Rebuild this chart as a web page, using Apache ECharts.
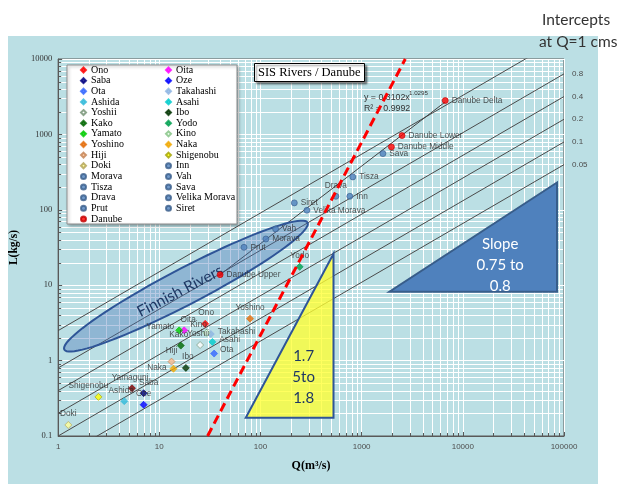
<!DOCTYPE html>
<html>
<head>
<meta charset="utf-8">
<script src="https://cdn.jsdelivr.net/npm/echarts@6/dist/echarts.min.js"></script>
<style>
  html, body { margin: 0; padding: 0; background: #ffffff; }
  #panel { position: absolute; left: 8px; top: 36px; width: 590px; height: 448px; background: #bbdfe4; }
  #chart { position: absolute; left: 0; top: 0; width: 618px; height: 486px; }
</style>
</head>
<body>
<div id="panel"></div>
<div id="chart"></div>
<script>
// ---------- data ----------
// Japanese rivers: discharge Q (m3/s) and load L (kg/s)
const japanNames = ['Ono', 'Oita', 'Saba', 'Oze', 'Ota', 'Takahashi', 'Ashida', 'Asahi', 'Yoshii', 'Ibo',
  'Kako', 'Yodo', 'Yamato', 'Kino', 'Yoshino', 'Naka', 'Hiji', 'Shigenobu', 'Doki', 'Yamaguni'];
const japanQ = [28.4, 17.6, 7.0, 7.0, 34.8, 32.3, 4.5, 33.5, 25.3, 18.3,
  16.3, 244, 15.7, 29.3, 78.8, 13.8, 13.2, 2.5, 1.26, 5.37];
const japanL = [3.07, 2.52, 0.37, 0.26, 1.24, 2.25, 0.29, 1.77, 1.61, 0.80,
  1.58, 17.5, 2.52, 2.33, 3.6, 0.78, 0.97, 0.33, 0.14, 0.43];

// Danube tributaries
const euroNames = ['Morava', 'Tisza', 'Drava', 'Prut', 'Inn', 'Vah', 'Sava', 'Velika Morava', 'Siret'];
const euroQ = [113, 817, 556, 68.7, 764, 141, 1622, 288, 216];
const euroL = [41, 273, 151, 31.8, 151, 55.8, 556, 98.5, 123.5];

// Danube main stem
const danubeNames = ['Danube Upper', 'Danube Middle', 'Danube Lower', 'Danube Delta'];
const danubeQ = [39.9, 1968, 2506, 6700];
const danubeL = [13.8, 682, 964, 2806];

// Power-law trendline of the Danube stations
const trendA = 0.3102;
const trendB = 1.0295;
const trendR2 = 0.9992;
const trendQ = [39.9, 6700];

// Reference lines L = a * Q^slope, labelled by intercept at Q = 1
const refSlope = 0.78;
const refIntercepts = [2.5, 0.8, 0.4, 0.2, 0.1, 0.05];
const refLabels = ['', '0.8', '0.4', '0.2', '0.1', '0.05'];

// Steep red dashed line (two end points)
const steepQ = [30, 2700];
const steepL = [0.1, 10000];

// Annotation shapes (data coordinates)
const finnishTips = [[1.15, 1.40], [292, 67.6]];
const yellowTri = [[71.5, 0.175], [527, 0.175], [527, 26.2]];
const yellowText = '1.7\n5to\n1.8';
const yellowTextAt = [267, 0.6];
const blueTri = [[1880, 8.2], [85300, 8.2], [85300, 230]];
const blueText = 'Slope\n0.75 to\n0.8';
const blueTextAt = [23400, 18.2];

// Legend columns
const legendLeft = ['Ono', 'Saba', 'Ota', 'Ashida', 'Yoshii', 'Kako', 'Yamato', 'Yoshino', 'Hiji', 'Doki',
  'Morava', 'Tisza', 'Drava', 'Prut', 'Danube'];
const legendRight = ['Oita', 'Oze', 'Takahashi', 'Asahi', 'Ibo', 'Yodo', 'Kino', 'Naka', 'Shigenobu',
  'Inn', 'Vah', 'Sava', 'Velika Morava', 'Siret'];

// ---------- styles ----------
const markerFill = {
  Ono: '#ff0000', Oita: '#ff00ff', Saba: '#000080', Oze: '#0000ff', Ota: '#3366ff',
  Takahashi: '#8db4e2', Ashida: '#31b9d9', Asahi: '#00cccc', Yoshii: '#ffffff', Ibo: '#003300',
  Kako: '#006600', Yodo: '#00a050', Yamato: '#00cc00', Kino: '#e6ffe6', Yoshino: '#e36c09',
  Naka: '#f0a800', Hiji: '#f8b88b', Shigenobu: '#ffff00', Doki: '#ffff99', Yamaguni: '#800000'
};
const markerEdge = {
  Yoshii: '#6f8f6f', Kino: '#7fbf7f', Doki: '#b0a050', Shigenobu: '#a0a000', Hiji: '#c08050'
};
const labelPlace = {
  Ono: ['top', [1, 0]], Oita: ['top', [4, 0]], Saba: ['top', [5, 0]], Oze: ['top', [0, 0]],
  Ota: ['right', [-1, -4]], Takahashi: ['right', [0, -2]], Ashida: ['top', [-3, 0]],
  Asahi: ['right', [0, -2]], Yoshii: ['top', [-2, 0]], Ibo: ['top', [2, 0]], Kako: ['top', [-2, 0]],
  Yodo: ['top', [0, 0]], Yamato: ['left', [2, -4]], Kino: ['top', [-8, 3]], Yoshino: ['top', [0, 0]],
  Naka: ['left', [0, -1]], Hiji: ['top', [0, 0]], Shigenobu: ['top', [-10, 0]], Doki: ['top', [0, 0]],
  Yamaguni: ['top', [-2, 0]], Drava: ['top', [0, 0]]
};
const sans = 'Liberation Sans, Arial, sans-serif';
const serif = 'Liberation Serif, Times New Roman, serif';
const callout = 'Lato, Open Sans, sans-serif';
const labelStyle = { fontSize: 8.3, fontFamily: sans, color: '#2b2b2b', distance: 3 };

// ---------- series ----------
const series = [];

// minor grid lines and minor ticks at 2..9 of every decade
series.push({
  type: 'custom', z: 1, silent: true, data: [[10, 1]],
  renderItem: function (params, api) {
    const cs = params.coordSys;
    const kids = [];
    const px = v => Math.round(v) + 0.5;
    for (let e = 0; e < 5; e++) {
      for (let m = 2; m <= 9; m++) {
        const x = px(api.coord([m * Math.pow(10, e), 1])[0]);
        kids.push({ type: 'line', shape: { x1: x, y1: cs.y + 1, x2: x, y2: cs.y + cs.height - 1 },
          style: { stroke: '#ffffff', lineWidth: 1 } });
        kids.push({ type: 'line', shape: { x1: x, y1: cs.y + cs.height, x2: x, y2: cs.y + cs.height - 3 },
          style: { stroke: '#595959', lineWidth: 1 } });
      }
    }
    for (let e = -1; e < 4; e++) {
      for (let m = 2; m <= 9; m++) {
        const y = px(api.coord([10, m * Math.pow(10, e)])[1]);
        kids.push({ type: 'line', shape: { x1: cs.x + 1, y1: y, x2: cs.x + cs.width - 1, y2: y },
          style: { stroke: '#ffffff', lineWidth: 1 } });
        kids.push({ type: 'line', shape: { x1: cs.x, y1: y, x2: cs.x + 3, y2: y },
          style: { stroke: '#595959', lineWidth: 1 } });
      }
    }
    return { type: 'group', children: kids };
  }
});

// reference lines with intercept labels at the right edge
refIntercepts.forEach(function (a, i) {
  series.push({
    type: 'line', z: 2, silent: true, symbol: 'none', clip: true,
    data: [[1, a], [100000, a * Math.pow(100000, refSlope)]],
    lineStyle: { color: '#4a4a4a', width: 1 },
    endLabel: { show: refLabels[i] !== '', formatter: refLabels[i], color: '#4d4d4d',
      fontSize: 8, fontFamily: sans, distance: 8 }
  });
});

// Danube trendline
series.push({
  type: 'line', z: 2, silent: true, symbol: 'none',
  data: trendQ.map(q => [q, trendA * Math.pow(q, trendB)]),
  lineStyle: { color: '#404040', width: 1 }
});

// Finnish rivers envelope
series.push({
  type: 'custom', z: 3, silent: true, data: [[10, 1]],
  renderItem: function (params, api) {
    const p1 = api.coord(finnishTips[0]);
    const p2 = api.coord(finnishTips[1]);
    const cx = (p1[0] + p2[0]) / 2, cy = (p1[1] + p2[1]) / 2;
    const dx = p2[0] - p1[0], dy = p2[1] - p1[1];
    const ra = Math.sqrt(dx * dx + dy * dy) / 2, rb = 18;
    const ang = Math.atan2(dy, dx);
    const pts = [];
    for (let k = 0; k < 90; k++) {
      const t = k / 90 * Math.PI * 2;
      const ex = ra * Math.cos(t), ey = rb * Math.sin(t);
      pts.push([cx + ex * Math.cos(ang) - ey * Math.sin(ang), cy + ex * Math.sin(ang) + ey * Math.cos(ang)]);
    }
    return {
      type: 'group', children: [
        { type: 'polygon', shape: { points: pts },
          style: { fill: 'rgba(70,115,185,0.38)', stroke: '#2f5597', lineWidth: 2 } },
        { type: 'text', x: cx - 6, y: cy + 5, rotation: -ang,
          style: { text: 'Finnish Rivers', fontFamily: callout, fontSize: 15.5, fill: '#1f3864',
            align: 'center', verticalAlign: 'middle' } }
      ]
    };
  }
});

// yellow and blue slope triangles
function triangle(pointsData, fill, stroke, text, textAt, textColor, z) {
  return {
    type: 'custom', z: z, silent: true, data: [[10, 1]],
    renderItem: function (params, api) {
      const pts = pointsData.map(p => api.coord(p));
      const tp = api.coord(textAt);
      return {
        type: 'group', children: [
          { type: 'polygon', shape: { points: pts }, style: { fill: fill, stroke: stroke, lineWidth: 2 } },
          { type: 'text', x: tp[0], y: tp[1],
            style: { text: text, fontFamily: callout, fontSize: 15, lineHeight: 21, fill: textColor,
              align: 'center', verticalAlign: 'middle' } }
        ]
      };
    }
  };
}
series.push(triangle(yellowTri, 'rgba(255,255,50,0.78)', '#2f5597', yellowText, yellowTextAt, '#1f3864', 3));
series.push(triangle(blueTri, '#4f81bd', '#385d8a', blueText, blueTextAt, '#ffffff', 3));

// Japanese rivers
japanNames.forEach(function (n, i) {
  const place = labelPlace[n] || ['top', [0, 0]];
  series.push({
    type: 'scatter', name: n, z: 4, symbol: 'diamond', symbolSize: 7,
    data: [[japanQ[i], japanL[i]]],
    itemStyle: { color: markerFill[n], borderColor: markerEdge[n] || markerFill[n], borderWidth: 0.8 },
    label: Object.assign({ show: true, formatter: n, position: place[0], offset: place[1] }, labelStyle)
  });
});

// Danube tributaries
euroNames.forEach(function (n, i) {
  const place = labelPlace[n] || ['right', [0, 0]];
  series.push({
    type: 'scatter', name: n, z: 4, symbol: 'circle', symbolSize: 6,
    data: [[euroQ[i], euroL[i]]],
    itemStyle: { color: '#4f81bd', borderColor: '#385d8a', borderWidth: 0.8 },
    label: Object.assign({ show: true, formatter: n, position: place[0], offset: place[1] }, labelStyle)
  });
});

// Danube stations
series.push({
  type: 'scatter', name: 'Danube', z: 4, symbol: 'circle', symbolSize: 6,
  data: danubeNames.map((n, i) => ({ name: n, value: [danubeQ[i], danubeL[i]] })),
  itemStyle: { color: '#ff0000', borderColor: '#c00000', borderWidth: 0.8 },
  label: Object.assign({ show: true, formatter: p => p.name, position: 'right' }, labelStyle)
});

// steep red dashed line
series.push({
  type: 'line', z: 5, silent: true, symbol: 'none',
  data: steepQ.map((q, i) => [q, steepL[i]]),
  lineStyle: { color: '#ff0000', width: 3, type: [9, 5] }
});

// ---------- legend ----------
function legendItems(names) {
  return names.map(n => ({ name: n, icon: (euroNames.includes(n) || n === 'Danube') ? 'circle' : 'diamond' }));
}
const legendBase = {
  orient: 'vertical', top: 65, padding: 0, itemGap: 0.64, itemWidth: 5, itemHeight: 5,
  selectedMode: false, z: 10,
  textStyle: { fontFamily: serif, fontSize: 10, color: '#000', lineHeight: 10 }
};

const fmt = v => String(+(+v).toPrecision(6));

const option = {
  animation: false,
  backgroundColor: 'transparent',
  title: {
    text: 'SIS Rivers / Danube', left: 254, top: 63, padding: [3, 4, 3, 4],
    backgroundColor: '#ffffff', borderColor: '#000000', borderWidth: 1,
    shadowBlur: 2, shadowColor: 'rgba(0,0,0,0.45)', shadowOffsetX: 2, shadowOffsetY: 2, z: 10,
    textStyle: { fontFamily: serif, fontSize: 12.5, fontWeight: 'normal', color: '#000' }
  },
  legend: [
    Object.assign({ left: 80, data: legendItems(legendLeft) }, legendBase),
    Object.assign({ left: 165, data: legendItems(legendRight) }, legendBase)
  ],
  grid: {
    left: 57, top: 59, width: 507, height: 377, show: true,
    backgroundColor: 'transparent', borderColor: '#595959', borderWidth: 1
  },
  xAxis: {
    type: 'log', logBase: 10, min: 1, max: 100000, splitNumber: 5,
    name: 'Q(m³/s)', nameLocation: 'middle', nameGap: 24,
    nameTextStyle: { fontFamily: serif, fontSize: 12, fontWeight: 'bold', color: '#000' },
    axisLine: { lineStyle: { color: '#595959' } },
    axisTick: { inside: true, length: 4, lineStyle: { color: '#595959' } },
    axisLabel: { fontFamily: sans, fontSize: 8, color: '#4d4d4d', margin: 7, formatter: fmt },
    splitLine: { show: true, lineStyle: { color: '#ffffff', width: 1 } }
  },
  yAxis: {
    type: 'log', logBase: 10, min: 0.1, max: 10000, splitNumber: 5,
    name: 'L(kg/s)', nameLocation: 'middle', nameGap: 37,
    nameTextStyle: { fontFamily: serif, fontSize: 11.5, fontWeight: 'bold', color: '#000' },
    axisLine: { show: true, lineStyle: { color: '#595959' } },
    axisTick: { show: true, inside: true, length: 4, lineStyle: { color: '#595959' } },
    axisLabel: { fontFamily: serif, fontSize: 8.5, color: '#333333', margin: 6, formatter: fmt },
    splitLine: { show: true, lineStyle: { color: '#ffffff', width: 1 } }
  },
  graphic: [
    { type: 'rect', z: 8, shape: { x: 67, y: 65, width: 170, height: 159 },
      style: { fill: '#ffffff', stroke: '#8c8c8c', lineWidth: 1,
        shadowBlur: 3, shadowColor: 'rgba(0,0,0,0.3)', shadowOffsetX: 1.5, shadowOffsetY: 1.5 } },
    { type: 'text', z: 4, x: 364, y: 98,
      style: { text: 'y = ' + trendA + 'x', fontFamily: sans, fontSize: 8.8, fill: '#333333', verticalAlign: 'middle' } },
    { type: 'text', z: 4, x: 409, y: 93.5,
      style: { text: String(trendB), fontFamily: sans, fontSize: 6.2, fill: '#333333', verticalAlign: 'middle' } },
    { type: 'text', z: 4, x: 364, y: 108.5,
      style: { text: 'R² = ' + trendR2, fontFamily: sans, fontSize: 8.8, fill: '#333333', verticalAlign: 'middle' } },
    { type: 'text', z: 10, x: 542, y: 20,
      style: { text: 'Intercepts', fontFamily: callout, fontSize: 15.5, fill: '#333333', verticalAlign: 'middle' } },
    { type: 'text', z: 10, x: 539, y: 42,
      style: { text: 'at Q=1 cms', fontFamily: callout, fontSize: 15.5, fill: '#333333', verticalAlign: 'middle' } }
  ],
  series: series
};

const chart = echarts.init(document.getElementById('chart'), null, { renderer: 'canvas' });
chart.setOption(option);
</script>
</body>
</html>
